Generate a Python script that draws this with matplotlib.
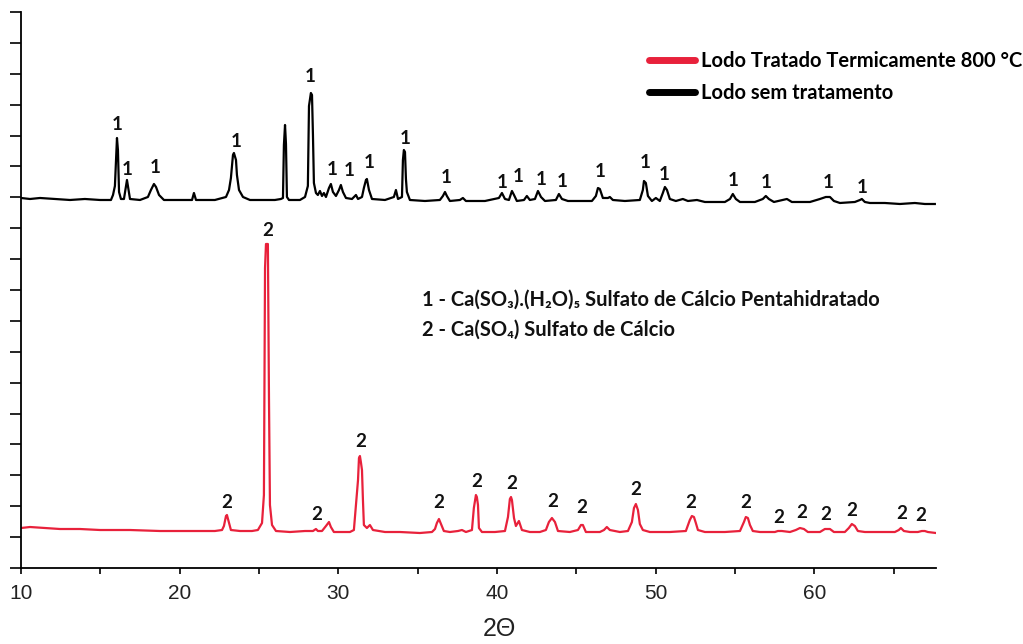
import numpy as np
import matplotlib.pyplot as plt
from matplotlib.lines import Line2D
from matplotlib.ticker import MultipleLocator

# XRD patterns (2-theta in degrees, intensity in arbitrary units)
raw_2theta = [10.00, 10.57, 11.20, 12.14, 13.09, 14.03, 14.98, 15.67, 15.80, 15.92,
              15.99, 16.05, 16.11, 16.18, 16.30, 16.49, 16.62, 16.68, 16.74, 16.87,
              17.50, 18.00, 18.19, 18.38, 18.51, 18.70, 19.01, 20.02, 20.78, 20.90,
              21.03, 22.22, 22.92, 23.11, 23.23, 23.36, 23.42, 23.55, 23.61, 23.74,
              23.99, 24.43, 26.00, 26.38, 26.51, 26.57, 26.64, 26.70, 26.76, 26.89,
              27.58, 27.90, 28.08, 28.15, 28.27, 28.34, 28.40, 28.46, 28.59, 28.71,
              28.84, 28.97, 29.09, 29.22, 29.41, 29.53, 29.66, 29.85, 30.04, 30.16,
              30.29, 30.48, 30.86, 31.11, 31.24, 31.49, 31.61, 31.74, 31.80, 31.93,
              32.12, 32.94, 33.50, 33.63, 33.76, 34.01, 34.07, 34.13, 34.20, 34.26,
              34.32, 34.51, 35.46, 36.40, 36.59, 36.72, 36.84, 37.03, 37.66, 37.85,
              38.04, 39.24, 40.12, 40.31, 40.50, 40.75, 40.94, 41.07, 41.25, 41.70,
              41.88, 42.07, 42.39, 42.58, 42.77, 43.02, 43.71, 43.90, 44.09, 44.47,
              45.22, 45.98, 46.23, 46.36, 46.48, 46.67, 46.99, 47.11, 47.30, 48.06,
              49.00, 49.19, 49.26, 49.38, 49.51, 49.76, 50.01, 50.26, 50.45, 50.58,
              50.71, 50.89, 51.27, 51.71, 52.03, 52.60, 53.10, 54.36, 54.68, 54.86,
              55.05, 55.31, 56.25, 56.75, 56.94, 57.13, 57.45, 58.27, 58.58, 59.72,
              60.35, 60.72, 60.98, 61.23, 61.61, 62.55, 62.87, 62.99, 63.18, 63.50,
              64.44, 65.39, 66.33, 66.96, 67.59]
raw_int = [370, 369, 370, 369, 368, 369, 368, 368, 373, 382,
           408, 430, 418, 376, 369, 369, 382, 388, 382, 369,
           368, 371, 378, 384, 381, 373, 368, 368, 368, 375,
           368, 368, 371, 378, 390, 413, 415, 408, 393, 378,
           371, 368, 368, 369, 370, 423, 443, 424, 371, 368,
           368, 371, 382, 462, 475, 473, 433, 385, 375, 373,
           377, 372, 375, 371, 380, 384, 376, 372, 378, 383,
           376, 370, 369, 373, 369, 371, 380, 388, 389, 378,
           369, 368, 371, 378, 369, 371, 408, 418, 416, 389,
           376, 368, 367, 368, 372, 376, 372, 367, 368, 370,
           367, 367, 370, 375, 369, 368, 377, 373, 367, 368,
           372, 368, 369, 377, 371, 367, 368, 374, 369, 367,
           367, 367, 372, 380, 379, 370, 370, 371, 368, 367,
           368, 378, 387, 385, 372, 367, 370, 367, 375, 381,
           378, 369, 367, 369, 367, 368, 366, 366, 369, 374,
           369, 366, 366, 369, 372, 369, 366, 369, 366, 366,
           369, 371, 371, 367, 365, 366, 368, 369, 366, 365,
           365, 364, 365, 364, 364]

calc_2theta = [10.00, 10.57, 11.51, 12.46, 13.72, 14.98, 16.87, 18.76, 20.65, 22.22,
               22.67, 22.79, 22.92, 22.98, 23.11, 23.23, 23.80, 24.56, 24.93, 25.19,
               25.31, 25.38, 25.44, 25.56, 25.63, 25.69, 25.82, 26.07, 26.95, 27.90,
               28.40, 28.59, 28.71, 28.97, 29.22, 29.41, 29.53, 29.72, 30.73, 30.98,
               31.11, 31.24, 31.30, 31.36, 31.42, 31.49, 31.55, 31.61, 31.80, 31.99,
               32.18, 32.94, 33.88, 35.14, 35.90, 36.09, 36.21, 36.34, 36.47, 36.65,
               37.03, 37.54, 37.79, 38.04, 38.42, 38.54, 38.67, 38.73, 38.80, 38.86,
               39.05, 39.87, 40.50, 40.69, 40.81, 40.88, 40.94, 41.07, 41.19, 41.38,
               41.57, 42.07, 42.70, 43.08, 43.27, 43.46, 43.65, 43.84, 44.59, 45.10,
               45.29, 45.41, 45.60, 46.48, 46.74, 46.92, 47.11, 47.74, 48.25, 48.50,
               48.63, 48.75, 48.88, 49.00, 49.19, 49.63, 50.89, 51.90, 52.15, 52.28,
               52.41, 52.53, 52.66, 53.10, 54.36, 55.31, 55.56, 55.68, 55.81, 55.94,
               56.12, 56.57, 57.51, 57.70, 57.95, 58.46, 58.83, 59.09, 59.34, 59.59,
               60.35, 60.66, 60.98, 61.23, 61.92, 62.17, 62.36, 62.55, 62.74, 63.18,
               64.13, 65.07, 65.32, 65.45, 65.64, 66.02, 66.52, 66.77, 66.96, 67.15,
               67.66]
calc_int = [40, 41, 40, 39, 39, 38, 38, 37, 37, 37,
            38, 42, 52, 53, 45, 38, 37, 37, 38, 45,
            73, 300, 324, 324, 168, 63, 43, 37, 36, 37,
            37, 39, 37, 37, 42, 46, 41, 36, 36, 38,
            63, 88, 110, 112, 106, 98, 68, 43, 40, 43,
            38, 36, 36, 35, 36, 39, 45, 49, 44, 37,
            36, 37, 38, 36, 38, 60, 73, 71, 63, 40,
            36, 36, 37, 51, 69, 71, 68, 50, 42, 47,
            38, 36, 36, 38, 46, 50, 46, 37, 36, 38,
            43, 43, 36, 36, 38, 41, 38, 36, 37, 46,
            60, 64, 58, 44, 38, 36, 36, 37, 48, 52,
            51, 45, 38, 36, 36, 37, 46, 51, 50, 43,
            37, 36, 36, 37, 37, 36, 38, 40, 39, 36,
            36, 39, 39, 36, 36, 40, 44, 42, 37, 36,
            36, 36, 38, 40, 37, 36, 36, 37, 37, 36,
            35]

# phase labels above the peaks
raw_peak_x = [16.05, 16.68, 18.45, 23.55, 28.21, 29.60, 30.67, 31.93, 34.20, 36.78,
              40.31, 41.32, 42.77, 44.09, 46.48, 49.32, 50.52, 54.86, 56.94, 60.85, 62.99]
raw_peak_y = [443, 398, 400, 426, 491, 398, 397, 405, 429, 390,
              385, 391, 388, 386, 396, 405, 393, 387, 385, 385, 380]
calc_peak_x = [22.98, 25.56, 28.65, 31.42, 36.34, 38.73, 40.94, 43.52, 45.35,
               48.75, 52.22, 55.68, 57.76, 59.21, 60.72, 62.36, 65.51, 66.71]
calc_peak_y = [66, 337, 54, 127, 66, 87, 85, 67, 61,
               79, 66, 66, 51, 56, 54, 58, 55, 53]

red = '#e8213b'
lab_font = ['Lato', 'DejaVu Sans']
arial = ['Liberation Sans', 'DejaVu Sans']

fig = plt.figure(figsize=(10.23, 6.44), dpi=100)
ax = fig.add_axes([0.0205, 0.118, 0.8944, 0.8634])

ax.plot(raw_2theta, raw_int, color='black', lw=1.6)
ax.plot(calc_2theta, calc_int, color=red, lw=1.6)

for x, y in zip(raw_peak_x, raw_peak_y):
    ax.text(x, y, '1', ha='center', va='center', fontsize=13.5,
            fontweight='bold', family=lab_font, color='#111111')
for x, y in zip(calc_peak_x, calc_peak_y):
    ax.text(x, y, '2', ha='center', va='center', fontsize=13.5,
            fontweight='bold', family=lab_font, color='#111111')

ax.set_xlim(10, 67.66)
ax.set_ylim(0, 556)
ax.xaxis.set_major_locator(MultipleLocator(10))
ax.xaxis.set_minor_locator(MultipleLocator(5))
ax.yaxis.set_major_locator(MultipleLocator(556 / 18))
ax.set_yticklabels([])
ax.spines['top'].set_visible(False)
ax.spines['right'].set_visible(False)
for s in ['left', 'bottom']:
    ax.spines[s].set_linewidth(1.3)
ax.tick_params(axis='y', direction='out', length=8, width=1.2)
ax.tick_params(axis='x', which='both', direction='out', length=4.5, width=1.2,
               labelsize=15, pad=7, labelcolor='#222222')
for t in ax.get_xticklabels():
    t.set_family(arial)

ax.set_xlabel('2Θ', fontsize=18, family=arial, color='#222222')
ax.xaxis.set_label_coords(0.523, -0.088)

handles = [Line2D([], [], color=red, lw=5, solid_capstyle='round'),
           Line2D([], [], color='black', lw=5, solid_capstyle='round')]
ax.legend(handles, ['Lodo Tratado Termicamente 800 °C', 'Lodo sem tratamento'],
          loc='upper left', bbox_to_anchor=(0.686, 0.93), frameon=False,
          prop={'family': lab_font, 'weight': 'bold', 'size': 14.5},
          handlelength=2.3, handletextpad=0.3, labelspacing=0.6, borderpad=0,
          borderaxespad=0)

ax.text(0.438, 0.482, '1 - Ca(SO₃).(H₂O)₅ Sulfato de Cálcio Pentahidratado',
        transform=ax.transAxes, ha='left', va='center', fontsize=14.5,
        fontweight='bold', family=lab_font, color='#111111')
ax.text(0.438, 0.428, '2 - Ca(SO₄) Sulfato de Cálcio',
        transform=ax.transAxes, ha='left', va='center', fontsize=14.5,
        fontweight='bold', family=lab_font, color='#111111')

fig.savefig('out.png', dpi=100)
